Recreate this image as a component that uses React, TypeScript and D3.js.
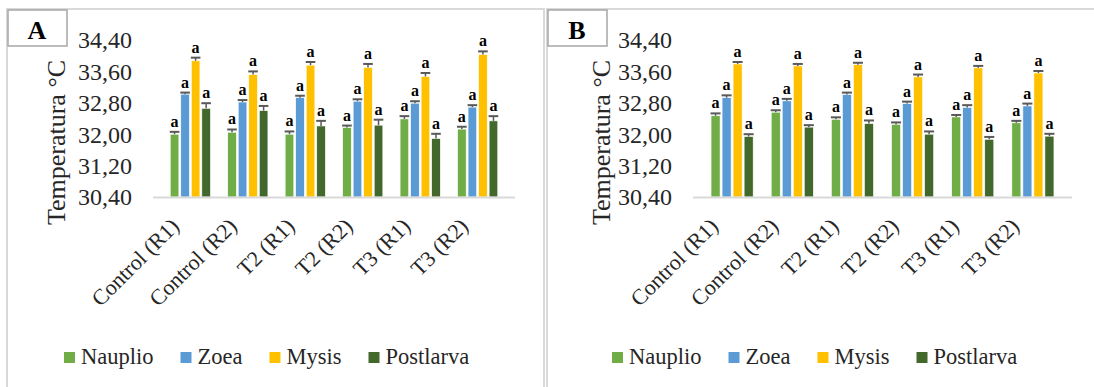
import * as d3 from "d3";
import React, { useEffect, useRef } from "react";

const categories = ["Control (R1)", "Control (R2)", "T2 (R1)", "T2 (R2)", "T3 (R1)", "T3 (R2)"];
const stages = ["Nauplio", "Zoea", "Mysis", "Postlarva"];
const stageColors = ["#70AD47", "#5B9BD5", "#FFC000", "#43682B"];
const yTicks = [30.4, 31.2, 32.0, 32.8, 33.6, 34.4];

// panel A
const naupliusA = [32.0, 32.05, 32.0, 32.17, 32.39, 32.13];
const zoeaA = [33.02, 32.82, 32.93, 32.84, 32.79, 32.69];
const mysisA = [33.87, 33.52, 33.76, 33.7, 33.47, 34.03];
const postlarvaA = [32.66, 32.6, 32.21, 32.23, 31.89, 32.34];
const naupliusAErr = [0.06, 0.07, 0.07, 0.05, 0.07, 0.06];
const zoeaAErr = [0.04, 0.05, 0.05, 0.05, 0.05, 0.05];
const mysisAErr = [0.08, 0.08, 0.08, 0.09, 0.09, 0.08];
const postlarvaAErr = [0.13, 0.12, 0.13, 0.14, 0.12, 0.12];

// panel B
const naupliusB = [32.47, 32.56, 32.38, 32.25, 32.44, 32.29];
const zoeaB = [32.93, 32.85, 33.01, 32.78, 32.68, 32.72];
const mysisB = [33.79, 33.74, 33.77, 33.46, 33.69, 33.56];
const postlarvaB = [31.94, 32.18, 32.27, 32.0, 31.87, 31.95];
const naupliusBErr = [0.06, 0.05, 0.05, 0.05, 0.05, 0.05];
const zoeaBErr = [0.06, 0.05, 0.05, 0.05, 0.06, 0.06];
const mysisBErr = [0.05, 0.05, 0.05, 0.06, 0.05, 0.05];
const postlarvaBErr = [0.06, 0.05, 0.08, 0.07, 0.06, 0.06];

const sigLetter = "a";
const FONT = "Liberation Serif";

const App: React.FC = () => {
  const ref = useRef<SVGSVGElement>(null);

  useEffect(() => {
    const width = 1094;
    const height = 387;

    const svg = d3.select(ref.current!)
      .attr("width", width)
      .attr("height", height);
    svg.selectAll("*").remove();

    svg.append("rect").attr("width", width).attr("height", height).attr("fill", "#fff");

    const panels = [
      {
        label: "A", frameX: 7, frameW: 537, left: 153, right: 515, titleX: 56, legendX: 64,
        labelRange: [175, 464],
        values: [naupliusA, zoeaA, mysisA, postlarvaA],
        errs: [naupliusAErr, zoeaAErr, mysisAErr, postlarvaAErr],
      },
      {
        label: "B", frameX: 547, frameW: 560, left: 693, right: 1072, titleX: 601, legendX: 612,
        labelRange: [714, 1015],
        values: [naupliusB, zoeaB, mysisB, postlarvaB],
        errs: [naupliusBErr, zoeaBErr, mysisBErr, postlarvaBErr],
      },
    ];

    const top = 40;
    const bottom = 197;

    panels.forEach(p => {
      const g = svg.append("g");

      // frame
      g.append("rect")
        .attr("x", p.frameX).attr("y", 9)
        .attr("width", p.frameW).attr("height", 400)
        .attr("fill", "none").attr("stroke", "#d9d9d9").attr("stroke-width", 2);

      // panel letter box
      g.append("rect")
        .attr("x", p.frameX + 1).attr("y", 10)
        .attr("width", 59).attr("height", 36)
        .attr("fill", "#fff").attr("stroke", "#a6a6a6").attr("stroke-width", 1.5);
      g.append("text")
        .attr("x", p.frameX + 30).attr("y", 39)
        .attr("text-anchor", "middle")
        .attr("font-family", FONT)
        .attr("font-size", 26).attr("font-weight", "bold")
        .text(p.label);

      const y = d3.scaleLinear().domain([30.4, 34.4]).range([bottom, top]);
      const x0 = d3.scaleBand<string>().domain(categories).range([p.left, p.right]).padding(0.3);
      const x1 = d3.scaleBand<string>().domain(stages).range([0, x0.bandwidth()]).paddingInner(0.18);
      const xl = d3.scalePoint<string>().domain(categories).range(p.labelRange);

      // y tick labels
      g.append("g").selectAll("text").data(yTicks).join("text")
        .attr("x", p.left - 21)
        .attr("y", d => y(d))
        .attr("dy", "0.35em")
        .attr("text-anchor", "end")
        .attr("font-family", FONT)
        .attr("font-size", 24)
        .attr("fill", "#262626")
        .text(d => d3.format(".2f")(d).replace(".", ","));

      // y title
      g.append("text")
        .attr("transform", `translate(${p.titleX},${(top + bottom) / 2 + 24}) rotate(-90)`)
        .attr("text-anchor", "middle")
        .attr("dy", "0.35em")
        .attr("font-family", FONT)
        .attr("font-size", 26)
        .attr("fill", "#262626")
        .text("Temperatura °C");

      // bars
      const groups = g.append("g").selectAll("g").data(categories).join("g")
        .attr("transform", d => `translate(${x0(d)},0)`);

      groups.each(function (cat, ci) {
        const gg = d3.select(this);
        stages.forEach((s, si) => {
          const v = p.values[si][ci];
          const e = p.errs[si][ci];
          const bx = x1(s)!;
          const bw = x1.bandwidth();
          gg.append("rect")
            .attr("x", bx).attr("y", y(v))
            .attr("width", bw).attr("height", y(30.4) - y(v))
            .attr("fill", stageColors[si])
            .attr("stroke", "#fff").attr("stroke-width", 0.6);
          gg.append("line")
            .attr("x1", bx + bw / 2).attr("x2", bx + bw / 2)
            .attr("y1", y(v)).attr("y2", y(v + e))
            .attr("stroke", "#595959").attr("stroke-width", 1.5);
          gg.append("line")
            .attr("x1", bx - 0.5).attr("x2", bx + bw + 0.5)
            .attr("y1", y(v + e)).attr("y2", y(v + e))
            .attr("stroke", "#595959").attr("stroke-width", 2);
          gg.append("text")
            .attr("x", bx + bw / 2).attr("y", y(v + e) - 5)
            .attr("text-anchor", "middle")
            .attr("font-family", FONT)
            .attr("font-size", 16).attr("font-weight", "bold")
            .attr("fill", "#000")
            .text(sigLetter);
        });
      });

      // baseline
      g.append("line")
        .attr("x1", p.left).attr("x2", p.right)
        .attr("y1", bottom + 0.5).attr("y2", bottom + 0.5)
        .attr("stroke", "#d9d9d9").attr("stroke-width", 2);

      // x labels
      g.append("g").selectAll("text").data(categories).join("text")
        .attr("transform", d => `translate(${xl(d)},${bottom + 25}) rotate(-45)`)
        .attr("text-anchor", "end")
        .attr("dy", "0.35em")
        .attr("font-family", FONT)
        .attr("font-size", 22)
        .attr("fill", "#262626")
        .text(d => d);

      // legend
      let lx = p.legendX;
      stages.forEach((s, si) => {
        g.append("rect")
          .attr("x", lx).attr("y", 352)
          .attr("width", 11).attr("height", 11)
          .attr("fill", stageColors[si]);
        const t = g.append("text")
          .attr("x", lx + 17).attr("y", 364)
          .attr("font-family", FONT)
          .attr("font-size", 22.5)
          .attr("fill", "#262626")
          .text(s);
        const w = (t.node() as SVGTextElement).getComputedTextLength();
        lx += 17 + w + 27;
      });
    });

    return () => {
      svg.selectAll("*").remove();
    };
  }, []);

  return <svg ref={ref} style={{ display: "block", position: "absolute", left: 0, top: 0 }} />;
};

export default App;
